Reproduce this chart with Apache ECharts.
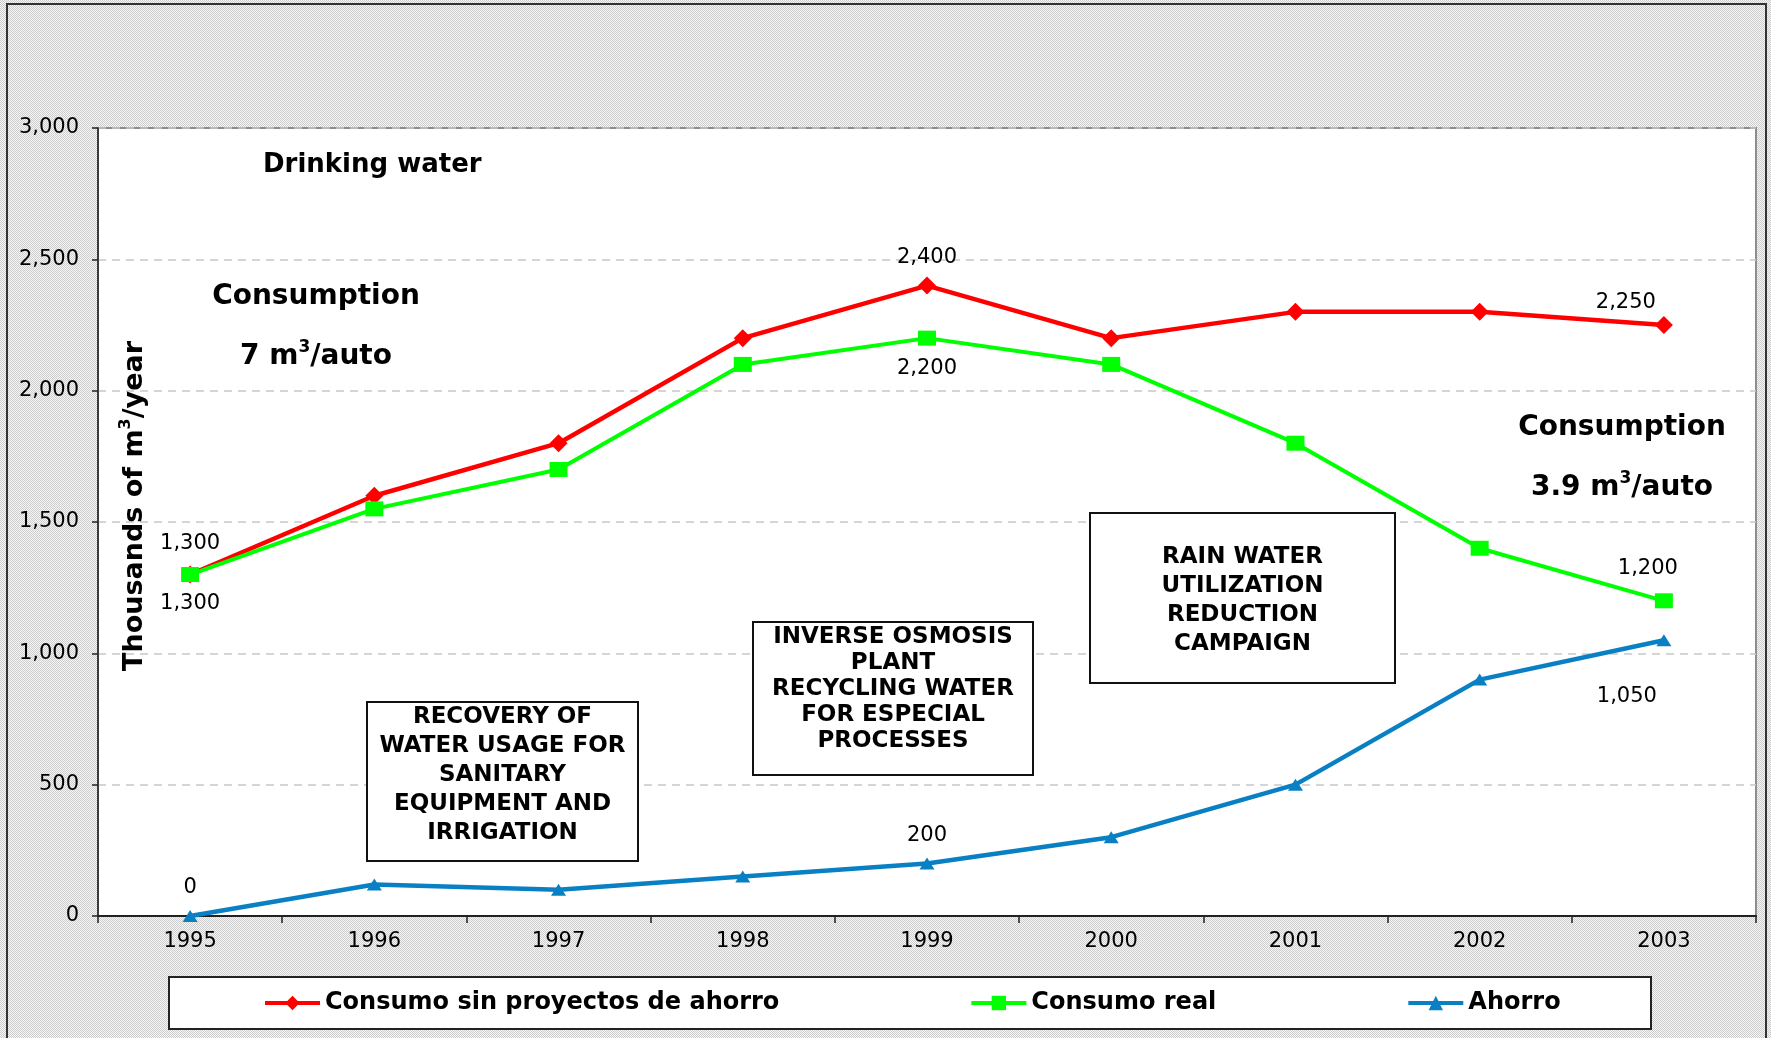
<!DOCTYPE html>
<html>
<head>
<meta charset="utf-8">
<script src="https://cdn.jsdelivr.net/npm/echarts@6/dist/echarts.min.js"></script>
<style>
html,body{margin:0;padding:0;background:#fff;}
#chart{width:1771px;height:1038px;}
</style>
</head>
<body>
<div id="chart"></div>
<script>
// ---- data ----
const years = ['1995', '1996', '1997', '1998', '1999', '2000', '2001', '2002', '2003'];
const sinProyectos = [1300, 1600, 1800, 2200, 2400, 2200, 2300, 2300, 2250];
const consumoReal = [1300, 1550, 1700, 2100, 2200, 2100, 1800, 1400, 1200];
const ahorro = [0, 120, 100, 150, 200, 300, 500, 900, 1050];
const seriesNames = ['Consumo sin proyectos de ahorro', 'Consumo real', 'Ahorro'];
const yMin = 0, yMax = 3000, yStep = 500;

// which points carry a value label, and where the label sits relative to the point
const labelSin = {0: [0, -31], 4: [0, -28], 8: [-38, -22]};
const labelReal = {0: [0, 29], 4: [0, 30], 8: [-16, -32]};
const labelAhorro = {0: [0, -28], 4: [0, -28], 8: [-37, 56]};

const FONT = 'DejaVu Sans';
const fmt = v => Number(v).toLocaleString('en-US');

function build(values, labels) {
  return values.map((v, i) => labels[i] ? {
    value: v,
    label: {show: true, position: 'inside', offset: labels[i]}
  } : v);
}

// dotted background pattern
const pc = document.createElement('canvas');
pc.width = 2; pc.height = 2;
const pctx = pc.getContext('2d');
pctx.fillStyle = '#f6f6f6'; pctx.fillRect(0, 0, 2, 2);
pctx.fillStyle = '#cdcdcd'; pctx.fillRect(0, 0, 1, 1); pctx.fillRect(1, 1, 1, 1);

const chart = echarts.init(document.getElementById('chart'), null, {renderer: 'canvas'});

const dataLabel = {
  show: false,
  formatter: p => fmt(p.value),
  color: '#000',
  fontFamily: FONT,
  fontSize: 21,
  textBorderWidth: 0
};

const boldText = (txt, x, y, size, align) => ({
  type: 'text', x: x, y: y, z: 20,
  style: {text: txt, fontFamily: FONT, fontWeight: 'bold', fontSize: size,
          fill: '#000', textAlign: align || 'left', textVerticalAlign: 'middle'}
});
const supText = (txt, x, y, size) => ({
  type: 'text', x: x, y: y, z: 20,
  style: {
    text: txt, textAlign: 'center', textVerticalAlign: 'middle',
    rich: {
      a: {fontFamily: FONT, fontWeight: 'bold', fontSize: size, lineHeight: size + 4, fill: '#000', verticalAlign: 'bottom'},
      s: {fontFamily: FONT, fontWeight: 'bold', fontSize: Math.round(size * 0.6), lineHeight: size + 4, fill: '#000', verticalAlign: 'top'}
    }
  }
});
const box = (x, y, w, h, lines, lh) => ([
  {type: 'rect', z: 10, shape: {x: x, y: y, width: w, height: h},
   style: {fill: '#fff', stroke: '#111', lineWidth: 2}},
  {type: 'text', z: 11, x: x + w / 2, y: 0,
   style: {text: lines.join('\n'), fontFamily: FONT, fontWeight: 'bold', fontSize: 23,
           lineHeight: lh, fill: '#000', textAlign: 'center', textVerticalAlign: 'middle'}}
]);

const box1 = box(367, 702, 271, 159, ['RECOVERY OF', 'WATER USAGE FOR', 'SANITARY', 'EQUIPMENT AND', 'IRRIGATION'], 29);
box1[1].y = 775;
const box2 = box(753, 622, 280, 153, ['INVERSE OSMOSIS', 'PLANT', 'RECYCLING WATER', 'FOR ESPECIAL', 'PROCESSES'], 26);
box2[1].y = 689;
const box3 = box(1090, 513, 305, 170, ['RAIN WATER', 'UTILIZATION', 'REDUCTION', 'CAMPAIGN'], 29);
box3[1].y = 601;

const option = {
  backgroundColor: {image: pc, repeat: 'repeat'},
  animation: false,
  grid: {
    left: 98, right: 15, top: 128, bottom: 122,
    show: true, backgroundColor: '#fff', borderColor: '#8c8c8c', borderWidth: 2
  },
  xAxis: {
    type: 'category',
    data: years,
    boundaryGap: true,
    axisLine: {lineStyle: {color: '#222', width: 2}},
    axisTick: {show: true, interval: 0, length: 7, lineStyle: {color: '#222', width: 1.5}},
    axisLabel: {color: '#000', fontFamily: FONT, fontSize: 21, margin: 15, interval: 0},
    splitLine: {show: false}
  },
  yAxis: {
    type: 'value',
    min: yMin, max: yMax, interval: yStep,
    axisLine: {show: true, lineStyle: {color: '#222', width: 1.5}},
    axisTick: {show: true, length: 6, lineStyle: {color: '#222', width: 1.5}},
    axisLabel: {color: '#000', fontFamily: FONT, fontSize: 21, margin: 19, formatter: v => fmt(v)},
    splitLine: {show: true, lineStyle: {color: '#c8c8c8', width: 1.5, type: [8, 6]}}
  },
  legend: {
    data: seriesNames,
    left: 263, top: 989,
    padding: 0,
    itemGap: 190,
    itemWidth: 55, itemHeight: 18,
    z: 30,
    lineStyle: {width: 4},
    textStyle: {fontFamily: FONT, fontWeight: 'bold', fontSize: 24, color: '#000', lineHeight: 28}
  },
  series: [
    {
      name: seriesNames[0], type: 'line',
      data: build(sinProyectos, labelSin),
      symbol: 'diamond', symbolSize: 18,
      lineStyle: {color: '#ff0000', width: 4.5},
      itemStyle: {color: '#ff0000'},
      label: dataLabel, z: 3
    },
    {
      name: seriesNames[1], type: 'line',
      data: build(consumoReal, labelReal),
      symbol: 'rect', symbolSize: [18, 15],
      lineStyle: {color: '#00ff00', width: 4},
      itemStyle: {color: '#00ff00'},
      label: dataLabel, z: 4
    },
    {
      name: seriesNames[2], type: 'line',
      data: build(ahorro, labelAhorro),
      symbol: 'triangle', symbolSize: [15, 12],
      lineStyle: {color: '#0a80c4', width: 4.5},
      itemStyle: {color: '#0a80c4'},
      label: dataLabel, z: 5
    }
  ],
  graphic: {
    elements: [
      {type: 'rect', z: 1, shape: {x: 7, y: 4, width: 1759, height: 1100},
       style: {fill: 'none', stroke: '#333', lineWidth: 2}},
      {type: 'rect', z: 5, shape: {x: 169, y: 977, width: 1482, height: 52},
       style: {fill: '#fff', stroke: '#222', lineWidth: 2}},
      boldText('Drinking water', 263, 165, 26),
      boldText('Consumption', 316, 297, 28, 'center'),
      supText('{a|7 m}{s|3}{a|/auto}', 316, 355, 28),
      boldText('Consumption', 1622, 428, 28, 'center'),
      supText('{a|3.9 m}{s|3}{a|/auto}', 1622, 486, 28),
      {
        type: 'text', x: 133, y: 506, rotation: Math.PI / 2, z: 20,
        style: {
          text: '{a|Thousands of m}{s|3}{a|/year}', textAlign: 'center', textVerticalAlign: 'middle',
          rich: {
            a: {fontFamily: FONT, fontWeight: 'bold', fontSize: 27, lineHeight: 31, fill: '#000', verticalAlign: 'bottom'},
            s: {fontFamily: FONT, fontWeight: 'bold', fontSize: 16, lineHeight: 31, fill: '#000', verticalAlign: 'top'}
          }
        }
      },
      ...box1, ...box2, ...box3
    ]
  }
};

chart.setOption(option);
</script>
</body>
</html>
